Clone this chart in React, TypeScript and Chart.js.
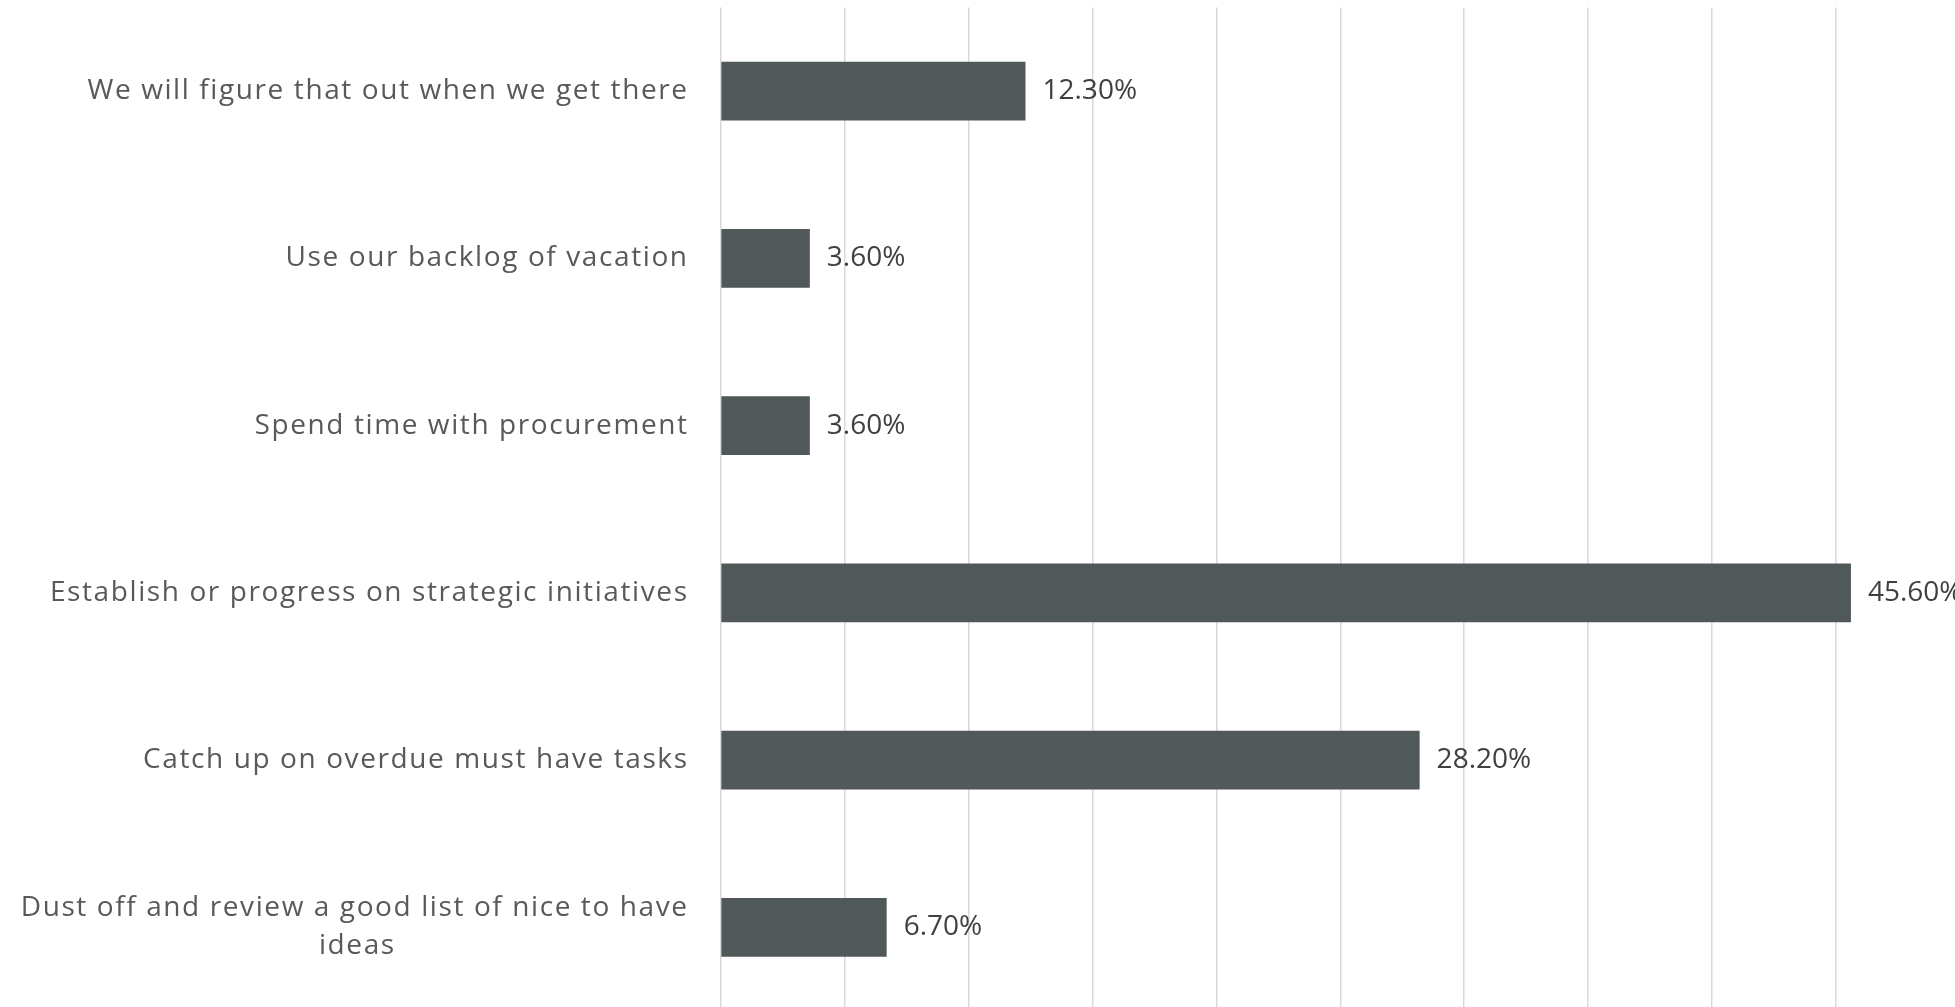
import React, { useEffect, useRef } from "react";
import { Chart, registerables } from "chart.js";

Chart.register(...registerables);

const categories: string[][] = [
  ["We will figure that out when we get there"],
  ["Use our backlog of vacation"],
  ["Spend time with procurement"],
  ["Establish or progress on strategic initiatives"],
  ["Catch up on overdue must have tasks"],
  ["Dust off and review a good list of nice to have", "ideas"],
];
const values: number[] = [12.3, 3.6, 3.6, 45.6, 28.2, 6.7];
const valueLabels: string[] = ["12.30%", "3.60%", "3.60%", "45.60%", "28.20%", "6.70%"];

const LABEL_FONT = { family: "'Open Sans', sans-serif", size: 28, lineHeight: 1.35 };
const LABEL_SPACING = "1.6px";
const VALUE_FONT = "28px 'Open Sans', sans-serif";

const measureCtx = (() => {
  const c = document.createElement("canvas");
  return c.getContext("2d")!;
})();

function centerLines(lines: string[]): string[] {
  if (lines.length < 2) return lines;
  measureCtx.font = `${LABEL_FONT.size}px ${LABEL_FONT.family}`;
  (measureCtx as any).letterSpacing = LABEL_SPACING;
  const w1 = measureCtx.measureText(lines[0]).width;
  const sw = measureCtx.measureText(" ").width;
  return lines.map((l, i) => {
    if (i === 0) return l;
    const w = measureCtx.measureText(l).width;
    const n = Math.max(0, Math.round((w1 - w) / 2 / sw));
    return l + " ".repeat(n);
  });
}

const spacingPlugin = {
  id: "labelSpacing",
  beforeUpdate(chart: any) {
    chart.ctx.letterSpacing = LABEL_SPACING;
  },
  beforeDraw(chart: any) {
    chart.ctx.letterSpacing = LABEL_SPACING;
  },
};

const valueLabelPlugin = {
  id: "valueLabels",
  afterDatasetsDraw(chart: any) {
    const ctx = chart.ctx;
    const meta = chart.getDatasetMeta(0);
    ctx.save();
    ctx.letterSpacing = "0px";
    ctx.font = VALUE_FONT;
    ctx.fillStyle = "#404040";
    ctx.textAlign = "left";
    ctx.textBaseline = "middle";
    meta.data.forEach((bar: any, i: number) => {
      ctx.fillText(valueLabels[i], bar.x + 17, bar.y);
    });
    ctx.restore();
  },
};

export default function App() {
  const ref = useRef<HTMLCanvasElement>(null);
  useEffect(() => {
    if (!ref.current) return;
    const chart = new Chart(ref.current, {
      type: "bar",
      data: {
        labels: categories,
        datasets: [
          {
            data: values,
            backgroundColor: "#505859",
            borderWidth: 0,
            barPercentage: 0.35,
            categoryPercentage: 1,
          },
        ],
      },
      options: {
        indexAxis: "y",
        responsive: false,
        animation: false,
        layout: { padding: { top: 7.5, left: 0, right: 0, bottom: 0 } },
        plugins: { legend: { display: false }, tooltip: { enabled: false } },
        scales: {
          x: {
            min: 0,
            max: 50,
            ticks: { display: false, stepSize: 5 },
            grid: { color: "#d9d9d9", lineWidth: 1.5, drawTicks: false },
            border: { display: false },
            afterFit(scale: any) {
              scale.height = 0;
              scale.paddingLeft = 0;
              scale.paddingRight = 0;
            },
          },
          y: {
            grid: { display: false },
            border: { display: false },
            ticks: {
              padding: 24,
              color: "#595959",
              font: LABEL_FONT as any,
              callback: function (this: any, _v: any, i: number) {
                return centerLines(categories[i]);
              },
            },
            afterFit(scale: any) {
              scale.width = 720.6;
              scale.paddingTop = 0;
              scale.paddingBottom = 0;
            },
          },
        },
      },
      plugins: [spacingPlugin, valueLabelPlugin],
    });
    return () => chart.destroy();
  }, []);
  return (
    <div style={{ position: "fixed", left: 0, top: 0, width: 1955, height: 1007, overflow: "hidden", background: "#fff" }}>
      <canvas ref={ref} width={1960} height={1011} style={{ display: "block" }} />
    </div>
  );
}
